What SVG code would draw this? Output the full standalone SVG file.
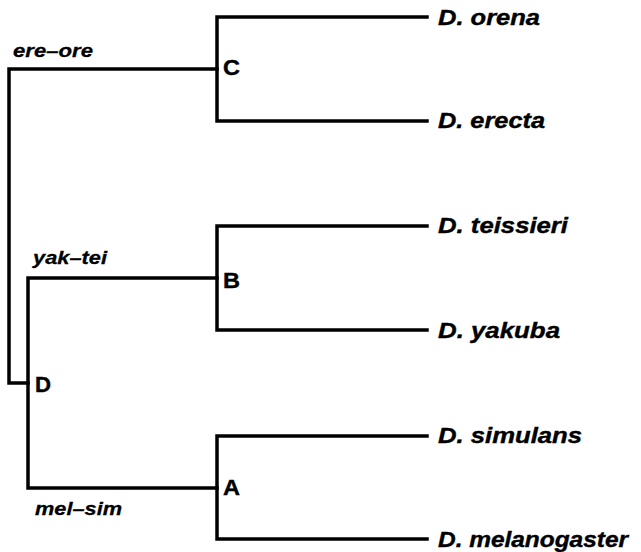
<svg xmlns="http://www.w3.org/2000/svg" width="641" height="552" viewBox="0 0 641 552">
  <style>
    .branch { fill: none; stroke: #000; stroke-width: 3.5; stroke-linecap: square; stroke-linejoin: miter; }
    .taxon { font-family: "Liberation Sans", Arial, Helvetica, sans-serif; font-size: 22px; font-weight: bold; font-style: italic; fill: #000; stroke: #000; stroke-width: 0.4; }
    .clade { font-family: "Liberation Sans", Arial, Helvetica, sans-serif; font-size: 19px; font-weight: bold; font-style: italic; fill: #000; stroke: #000; stroke-width: 0.3; }
    .node-label { font-family: "Liberation Sans", Arial, Helvetica, sans-serif; font-size: 22px; font-weight: bold; fill: #000; stroke: #000; stroke-width: 0.4; }
  </style>
  <rect width="641" height="552" fill="#fff"/>

  <!-- Tree branches -->
  <g id="connectors">
    <!-- root: ere-ore lineage and D -->
    <path class="branch" d="M217 69 H9 V383 H28"/>
    <!-- D: yak-tei and mel-sim lineages -->
    <path class="branch" d="M217 278 H28 V488 H217"/>
    <!-- C -->
    <path class="branch" d="M427 17 H217 V121 H427"/>
    <!-- B -->
    <path class="branch" d="M427 226 H217 V330 H427"/>
    <!-- A -->
    <path class="branch" d="M427 436 H217 V539 H427"/>
  </g>

  <!-- Branch (clade) labels -->
  <g id="clade-labels">
    <text class="clade" x="13" y="57" textLength="80" lengthAdjust="spacingAndGlyphs">ere–ore</text>
    <text class="clade" x="33" y="264" textLength="74" lengthAdjust="spacingAndGlyphs">yak–tei</text>
    <text class="clade" x="35" y="515" textLength="87" lengthAdjust="spacingAndGlyphs">mel–sim</text>
  </g>

  <!-- Internal nodes -->
  <g id="node-C"><text class="node-label" x="223" y="75" textLength="17" lengthAdjust="spacingAndGlyphs">C</text></g>
  <g id="node-B"><text class="node-label" x="223" y="288" textLength="17" lengthAdjust="spacingAndGlyphs">B</text></g>
  <g id="node-A"><text class="node-label" x="223" y="495" textLength="17" lengthAdjust="spacingAndGlyphs">A</text></g>
  <g id="node-D"><text class="node-label" x="35" y="392" textLength="16" lengthAdjust="spacingAndGlyphs">D</text></g>

  <!-- Leaves -->
  <g id="leaf-orena"><text class="taxon" x="438" y="25" textLength="102" lengthAdjust="spacingAndGlyphs">D. orena</text></g>
  <g id="leaf-erecta"><text class="taxon" x="438" y="128" textLength="107" lengthAdjust="spacingAndGlyphs">D. erecta</text></g>
  <g id="leaf-teissieri"><text class="taxon" x="438" y="233" textLength="130" lengthAdjust="spacingAndGlyphs">D. teissieri</text></g>
  <g id="leaf-yakuba"><text class="taxon" x="438" y="338" textLength="122" lengthAdjust="spacingAndGlyphs">D. yakuba</text></g>
  <g id="leaf-simulans"><text class="taxon" x="438" y="443" textLength="144" lengthAdjust="spacingAndGlyphs">D. simulans</text></g>
  <g id="leaf-melanogaster"><text class="taxon" x="438" y="547" textLength="190" lengthAdjust="spacingAndGlyphs">D. melanogaster</text></g>
</svg>
